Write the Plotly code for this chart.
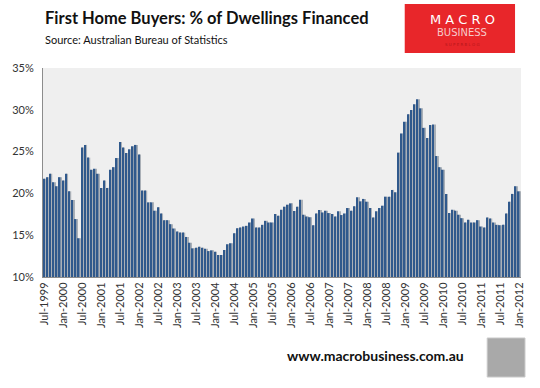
import plotly.graph_objects as go

# Monthly share of dwellings financed to first home buyers (%), Jul-1999 .. Jan-2012
values = [
    21.75, 21.94, 22.35, 21.34, 20.86, 21.94, 21.54, 22.35, 20.25, 19.21, 16.93, 14.64,
    25.48, 25.80, 24.28, 22.83, 22.95, 22.35, 20.66, 21.54, 20.66, 22.83, 23.14, 24.23,
    26.16, 25.48, 24.83, 25.28, 25.64, 25.80, 24.64, 20.34, 20.34, 18.93, 18.93, 17.93,
    18.33, 17.60, 16.80, 16.80, 16.32, 15.80, 15.43, 15.31, 15.31, 14.79, 14.10, 13.43,
    13.50, 13.62, 13.50, 13.38, 13.10, 13.19, 13.02, 12.63, 12.63, 13.23, 13.92, 14.04,
    15.24, 15.84, 15.92, 16.04, 16.12, 16.52, 17.00, 15.92, 15.92, 16.24, 16.72, 16.52,
    16.52, 17.53, 17.33, 18.05, 18.41, 18.65, 18.81, 17.89, 18.41, 19.25, 17.45, 17.24,
    17.15, 16.20, 17.60, 18.00, 17.72, 17.93, 17.65, 17.53, 17.24, 17.85, 17.41, 17.60,
    18.25, 17.93, 18.45, 19.53, 19.05, 19.34, 19.01, 18.25, 17.12, 17.85, 18.25, 18.53,
    19.61, 19.61, 20.42, 20.14, 24.88, 27.17, 28.57, 29.46, 29.98, 30.66, 31.26, 30.18,
    27.84, 26.64, 28.17, 28.25, 24.47, 23.14, 22.83, 19.94, 17.65, 18.05, 17.93, 17.45,
    17.04, 16.52, 16.84, 16.52, 16.52, 16.80, 16.04, 15.92, 17.12, 17.00, 16.52, 16.24,
    16.20, 16.24, 17.60, 19.01, 19.94, 20.86, 20.25,
]

tick_labels = [
    "Jul-1999", "Jan-2000", "Jul-2000", "Jan-2001", "Jul-2001", "Jan-2002", "Jul-2002",
    "Jan-2003", "Jul-2003", "Jan-2004", "Jul-2004", "Jan-2005", "Jul-2005", "Jan-2006",
    "Jul-2006", "Jan-2007", "Jul-2007", "Jan-2008", "Jul-2008", "Jan-2009", "Jul-2009",
    "Jan-2010", "Jul-2010", "Jan-2011", "Jul-2011", "Jan-2012",
]
tick_step = 6  # months between labels

y_ticks = [10, 15, 20, 25, 30, 35]

months = list(range(len(values)))
tick_positions = months[::tick_step]

FONT = "Lato"

fig = go.Figure()
# grey "shadow" half of each Excel-style bar
fig.add_trace(go.Bar(
    x=months, y=values, width=0.40, offset=0.02,
    marker=dict(color="#aab0b7", line=dict(width=0)),
    hoverinfo="skip", showlegend=False,
))
# blue face of each bar
fig.add_trace(go.Bar(
    x=months, y=values, width=0.48, offset=-0.48,
    marker=dict(color="#30598c", line=dict(width=0)),
    showlegend=False,
))

fig.update_layout(
    width=540, height=388,
    margin=dict(l=40, r=19, t=68, b=111),
    paper_bgcolor="white",
    plot_bgcolor="#efefef",
    barmode="overlay",
    font=dict(family=FONT, size=11, color="#333333"),
    xaxis=dict(
        range=[-0.5, len(values) - 0.5],
        tickmode="array", tickvals=tick_positions, ticktext=tick_labels,
        tickangle=-90, tickfont=dict(size=11, color="#333333", family=FONT),
        showgrid=False, zeroline=False,
        showline=True, linecolor="#8c8c8c", linewidth=1,
        ticks="", fixedrange=True,
    ),
    yaxis=dict(
        range=[10, 35], tickvals=y_ticks,
        ticktext=[f"{v}%" for v in y_ticks],
        tickfont=dict(size=11, color="#333333", family=FONT),
        showgrid=False, zeroline=False,
        showline=True, linecolor="#8c8c8c", linewidth=1,
        ticks="", ticklabelstandoff=6,
    ),
    shapes=[
        # logo block
        dict(type="rect", xref="paper", yref="paper",
             x0=(404 - 40) / 481, x1=(515 - 40) / 481,
             y0=(277 - 53) / 209, y1=(277 - 4) / 209,
             fillcolor="#e8262a", line=dict(width=0), layer="above"),
        # wolf picture placeholder
        dict(type="rect", xref="paper", yref="paper",
             x0=(487 - 40) / 481, x1=(525 - 40) / 481,
             y0=(277 - 377) / 209, y1=(277 - 338) / 209,
             fillcolor="#a9a9a9", line=dict(width=1, color="#c8c8c8"), layer="above"),
    ],
    annotations=[
        dict(text="<b>First Home Buyers: % of Dwellings Financed</b>",
             xref="paper", yref="paper", x=0, y=(277 - 18) / 209,
             xanchor="left", yanchor="middle", showarrow=False,
             font=dict(size=16.5, color="#111111", family=FONT)),
        dict(text="Source: Australian Bureau of Statistics",
             xref="paper", yref="paper", x=0, y=(277 - 39) / 209,
             xanchor="left", yanchor="middle", showarrow=False,
             font=dict(size=11, color="#111111", family=FONT)),
        dict(text="M A C R O", xref="paper", yref="paper",
             x=(462 - 40) / 481, y=(277 - 19) / 209,
             xanchor="center", yanchor="middle", showarrow=False,
             font=dict(size=13, color="white", family="DejaVu Sans")),
        dict(text="BUSINESS", xref="paper", yref="paper",
             x=(462 - 40) / 481, y=(277 - 33) / 209,
             xanchor="center", yanchor="middle", showarrow=False,
             font=dict(size=10, color="#f6c9c9", family="DejaVu Sans")),
        dict(text="S U P E R B L O G", xref="paper", yref="paper",
             x=(462 - 40) / 481, y=(277 - 44) / 209,
             xanchor="center", yanchor="middle", showarrow=False,
             font=dict(size=4, color="#b51519", family="DejaVu Sans")),
        dict(text="<b>www.macrobusiness.com.au</b>",
             xref="paper", yref="paper", x=(466 - 40) / 481, y=(277 - 355) / 209,
             xanchor="right", yanchor="middle", showarrow=False,
             font=dict(size=14, color="#111111", family=FONT)),
    ],
)

fig.write_html("out.html", config={"displayModeBar": False},
               post_script="document.body.style.margin='0';")
